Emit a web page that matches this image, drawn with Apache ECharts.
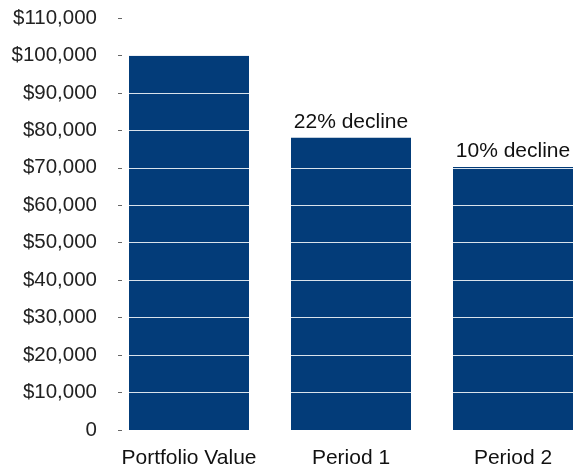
<!DOCTYPE html>
<html>
<head>
<meta charset="utf-8">
<script src="https://cdn.jsdelivr.net/npm/echarts@6/dist/echarts.min.js"></script>
<style>
  html, body { margin: 0; padding: 0; background: #fff; }
  #chart { width: 575px; height: 472px; }
</style>
</head>
<body>
<div id="chart"></div>
<script>
// 数据
const categories = ['Portfolio Value', 'Period 1', 'Period 2'];
const values = [100000, 78000, 70200];
const notes = ['', '22% decline', '10% decline'];
const yMin = 0, yMax = 110000, yStep = 10000;

const fmtMoney = v => v === 0 ? '0' : '$' + v.toLocaleString('en-US');

const chart = echarts.init(document.getElementById('chart'));
chart.setOption({
    animation: false,
    textStyle: { fontFamily: 'Liberation Sans, Arial, sans-serif' },
    grid: { left: 108, width: 486, top: 18, bottom: 42, containLabel: false, outerBoundsMode: 'none' },
    xAxis: {
        type: 'category',
        data: categories,
        axisLine: { show: false },
        axisTick: { show: false },
        axisLabel: { color: '#111', fontSize: 21, margin: 18, interval: 0, hideOverlap: false }
    },
    yAxis: {
        type: 'value',
        min: yMin, max: yMax, interval: yStep,
        offset: -14,
        z: 10,
        axisLine: { show: false },
        axisTick: { show: true, length: 4, lineStyle: { color: '#666' } },
        axisLabel: { color: '#222', fontSize: 20.5, margin: 25, formatter: fmtMoney },
        splitLine: { show: true, lineStyle: { color: 'rgba(255,255,255,0.85)', width: 1.2 } }
    },
    series: [{
        type: 'bar',
        data: values,
        barWidth: 120,
        itemStyle: { color: '#033c79' },
        label: {
            show: true,
            position: 'top',
            distance: 5,
            color: '#111',
            fontSize: 21,
            formatter: p => notes[p.dataIndex]
        }
    }]
});
</script>
</body>
</html>
